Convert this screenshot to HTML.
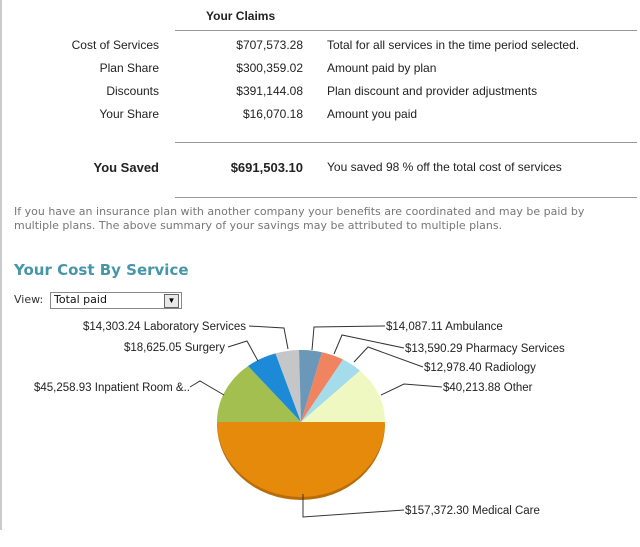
<!DOCTYPE html>
<html><head><meta charset="utf-8"><style>
body{margin:0;width:640px;height:547px;background:#fff;position:relative;overflow:hidden;font-family:"Liberation Sans",Arial,sans-serif;}
.t{position:absolute;font-size:12px;color:#222;white-space:nowrap;line-height:14px}
.r{text-align:right}
.hl{position:absolute;left:175px;width:462px;height:1px;background:#999}
.v{font-family:"DejaVu Sans",Verdana,sans-serif}
</style></head><body>
<div style="position:absolute;left:0;top:0;width:2px;height:530px;background:#c8cccc"></div>
<div class="t" style="left:206px;top:9px;font-weight:bold">Your Claims</div>
<div class="hl" style="top:30px"></div>
<div class="t r" style="right:481px;top:38px">Cost of Services</div>
<div class="t r" style="right:337px;top:38px">$707,573.28</div>
<div class="t" style="left:327px;top:38px">Total for all services in the time period selected.</div>
<div class="t r" style="right:481px;top:61px">Plan Share</div>
<div class="t r" style="right:337px;top:61px">$300,359.02</div>
<div class="t" style="left:327px;top:61px">Amount paid by plan</div>
<div class="t r" style="right:481px;top:84px">Discounts</div>
<div class="t r" style="right:337px;top:84px">$391,144.08</div>
<div class="t" style="left:327px;top:84px">Plan discount and provider adjustments</div>
<div class="t r" style="right:481px;top:107px">Your Share</div>
<div class="t r" style="right:337px;top:107px">$16,070.18</div>
<div class="t" style="left:327px;top:107px">Amount you paid</div>
<div class="hl" style="top:142px"></div>
<div class="t r" style="right:481px;top:161px;font-weight:bold;font-size:13px">You Saved</div>
<div class="t r" style="right:337px;top:161px;font-weight:bold;font-size:13px">$691,503.10</div>
<div class="t" style="left:327px;top:160px">You saved 98 % off the total cost of services</div>
<div class="hl" style="top:197px"></div>
<div class="t v" style="left:14px;top:205px;font-size:11px;color:#777;line-height:14px">If you have an insurance plan with another company your benefits are coordinated and may be paid by<br>multiple plans. The above summary of your savings may be attributed to multiple plans.</div>
<div class="t v" style="left:14px;top:261px;font-size:15px;font-weight:bold;color:#4696a8;line-height:18px">Your Cost By Service</div>
<div class="t v" style="left:14px;top:293px;font-size:11px;color:#333">View:</div>
<div style="position:absolute;left:50px;top:292px;width:130px;height:15px;border:1px solid #888;background:#fff"></div>
<div class="t v" style="left:54px;top:293px;font-size:11px;color:#111">Total paid</div>
<div style="position:absolute;left:164px;top:294px;width:13px;height:12px;border:1px solid #666;background:#e8e8e8;font-size:8px;text-align:center;line-height:12px">▼</div>
<svg width="640" height="547" style="position:absolute;left:0;top:0" font-family="Liberation Sans, Arial, sans-serif" font-size="11.5">
<path d="M217,424 A84,76 0 0 0 385,424 Z" fill="#b86d08"/>
<path d="M217,422 A84,75 0 0 0 385,422 Z" fill="#e68a0c"/>
<path d="M301,422 L217,422 A84,72 0 0 1 248,366 Z" fill="#a3bf4f"/>
<path d="M301,422 L248,366 A84,72 0 0 1 275.5,353.4 Z" fill="#1c8ad6"/>
<path d="M301,422 L275.5,353.4 A84,72 0 0 1 299,350 Z" fill="#c4c6c8"/>
<path d="M301,422 L299,350 A84,72 0 0 1 322,352.2 Z" fill="#6b97b8"/>
<path d="M301,422 L322,352.2 A84,72 0 0 1 343,359.5 Z" fill="#f08460"/>
<path d="M301,422 L343,359.5 A84,72 0 0 1 360,370.7 Z" fill="#a4dcec"/>
<path d="M301,422 L360,370.7 A84,72 0 0 1 385,422 Z" fill="#eef8c0"/>
<g stroke="#333" fill="none" stroke-width="1">
<polyline points="249,326 284,328 288,349"/>
<polyline points="228,347 247,341 258,361"/>
<polyline points="190,387 200,381 224,395"/>
<polyline points="312,350 314,327 385,326"/>
<polyline points="334,354 342,335 404,348"/>
<polyline points="354,362 368,347 423,367"/>
<polyline points="381,395 404,384 442,387"/>
<polyline points="303,494 303,517 404,510"/>
</g>
<g fill="#222">
<text x="246" y="330" text-anchor="end">$14,303.24 Laboratory Services</text>
<text x="225" y="351" text-anchor="end">$18,625.05 Surgery</text>
<text x="190" y="391" text-anchor="end">$45,258.93 Inpatient Room &amp;..</text>
<text x="386" y="330">$14,087.11 Ambulance</text>
<text x="405" y="352">$13,590.29 Pharmacy Services</text>
<text x="424" y="371">$12,978.40 Radiology</text>
<text x="443" y="391">$40,213.88 Other</text>
<text x="405" y="514">$157,372.30 Medical Care</text>
</g>
</svg>
</body></html>
